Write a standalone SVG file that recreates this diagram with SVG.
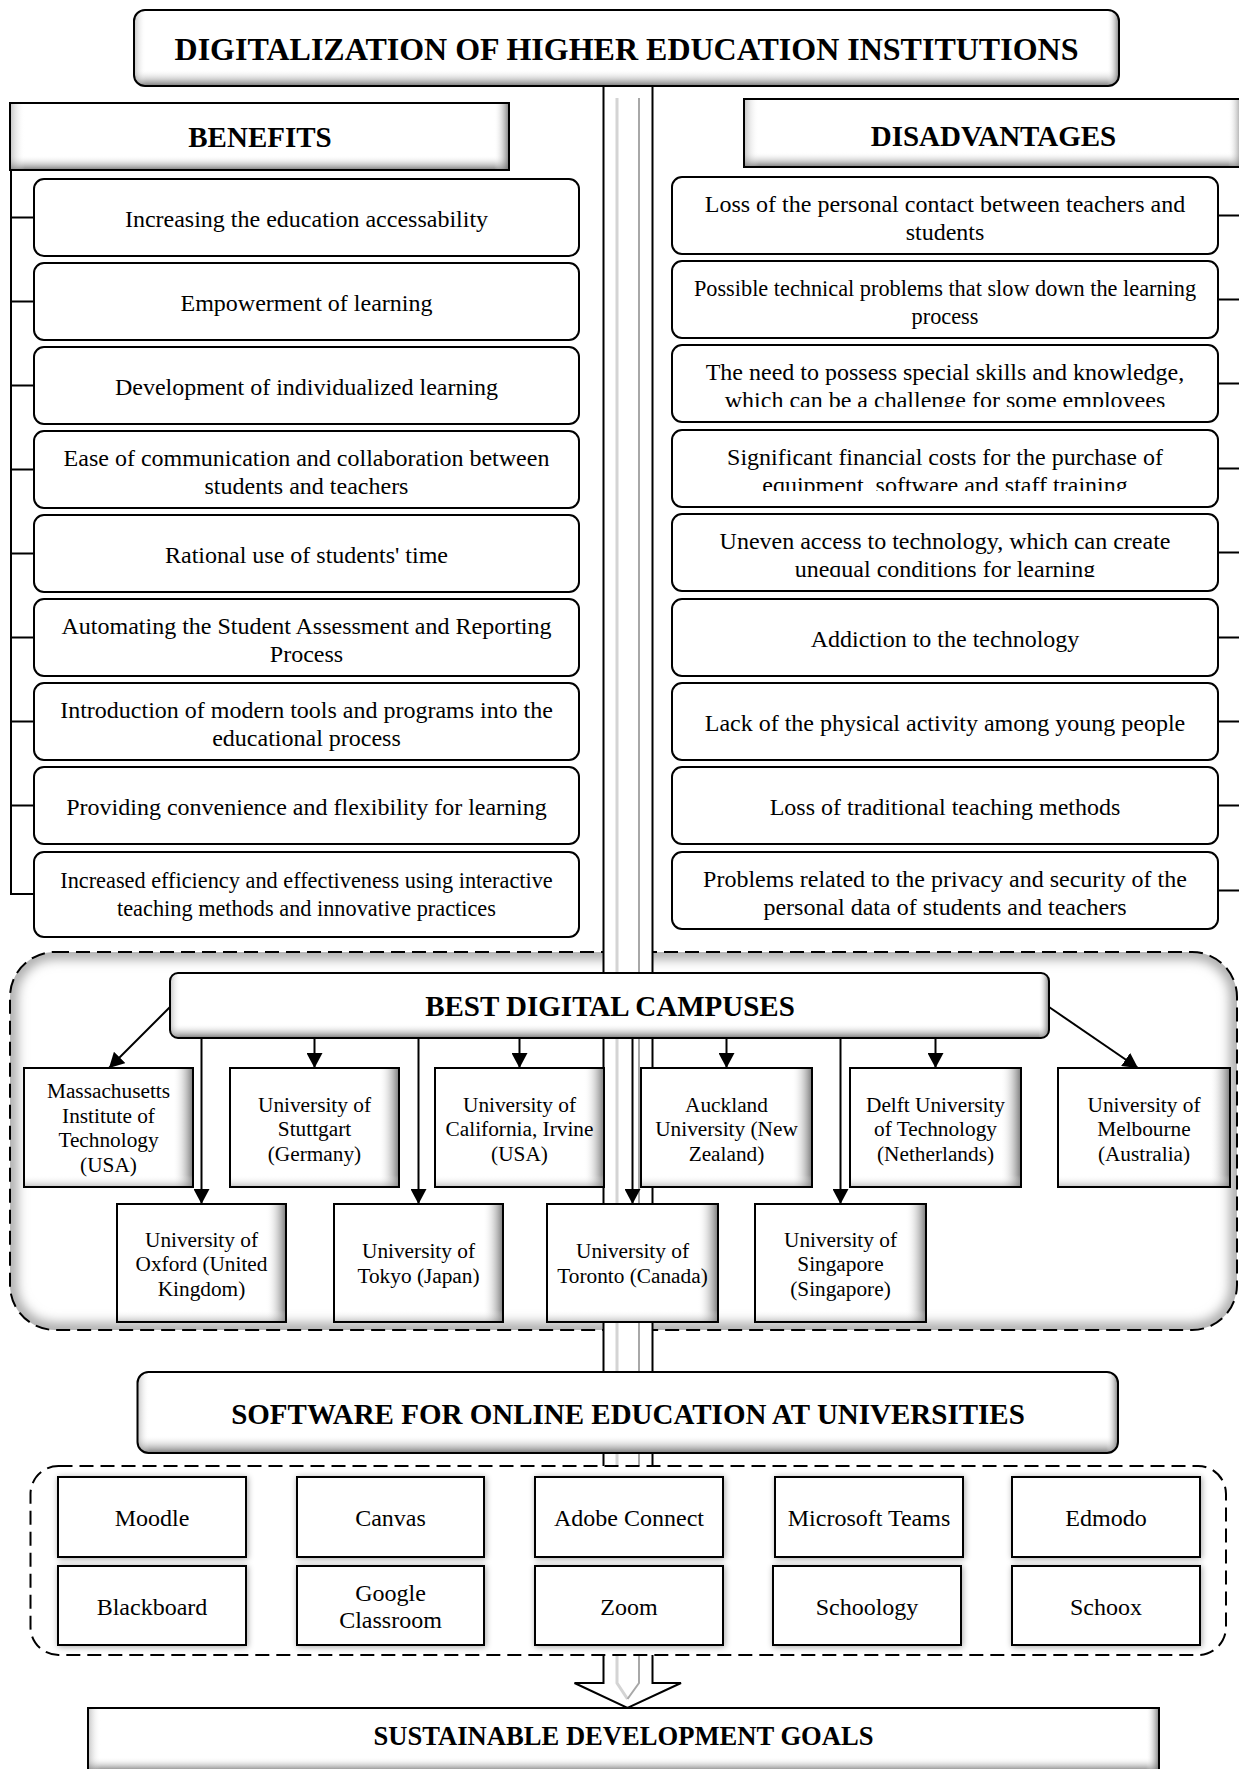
<svg xmlns="http://www.w3.org/2000/svg" width="1239" height="1769" viewBox="0 0 1239 1769">
<defs>
<style>
.t{font-family:"Liberation Serif","Times New Roman",serif;fill:#000;text-anchor:middle}
.h{font-weight:bold}
.f24{font-size:24px}
.f22{font-size:22.3px}
.f21{font-size:21.3px}
.box{fill:#fff;stroke:#000;stroke-width:2}
.nf{fill:none;stroke:#000;stroke-width:2}
.ln{fill:none;stroke:#000;stroke-width:2}
.arr{fill:none;stroke:#000;stroke-width:2;marker-end:url(#ah)}
.dash{fill:none;stroke:#000;stroke-width:2;stroke-dasharray:14 7}
</style>
<marker id="ah" viewBox="0 0 15 16" refX="15" refY="8" markerWidth="15" markerHeight="16" markerUnits="userSpaceOnUse" orient="auto"><path d="M0,0L15,8L0,16z" fill="#000"/></marker>
<linearGradient id="gBot" x1="0" y1="0" x2="0" y2="1"><stop offset="0" stop-color="#fff" stop-opacity="0"/><stop offset="0.78" stop-color="#fff" stop-opacity="0"/><stop offset="1" stop-color="#6a6a6a" stop-opacity="0.9"/></linearGradient>
<linearGradient id="gSide" x1="0" y1="0" x2="1" y2="0"><stop offset="0" stop-color="#888" stop-opacity="0.5"/><stop offset="0.012" stop-color="#fff" stop-opacity="0"/><stop offset="0.988" stop-color="#fff" stop-opacity="0"/><stop offset="1" stop-color="#666" stop-opacity="0.85"/></linearGradient>
<linearGradient id="gSideS" x1="0" y1="0" x2="1" y2="0"><stop offset="0" stop-color="#888" stop-opacity="0.5"/><stop offset="0.03" stop-color="#fff" stop-opacity="0"/><stop offset="0.97" stop-color="#fff" stop-opacity="0"/><stop offset="1" stop-color="#666" stop-opacity="0.85"/></linearGradient>
<linearGradient id="gBox" x1="0" y1="0" x2="1" y2="0"><stop offset="0" stop-color="#fff" stop-opacity="0"/><stop offset="0.88" stop-color="#fff" stop-opacity="0"/><stop offset="1" stop-color="#6a6a6a" stop-opacity="0.9"/></linearGradient>
<linearGradient id="gBoxB" x1="0" y1="0" x2="0" y2="1"><stop offset="0" stop-color="#fff" stop-opacity="0"/><stop offset="0.9" stop-color="#fff" stop-opacity="0"/><stop offset="1" stop-color="#888" stop-opacity="0.5"/></linearGradient>
<filter id="blur6" x="-5%" y="-10%" width="110%" height="120%"><feGaussianBlur stdDeviation="6"/></filter>
<filter id="soft" x="-10%" y="-10%" width="125%" height="130%"><feGaussianBlur in="SourceAlpha" stdDeviation="3"/><feOffset dx="1" dy="1"/><feComponentTransfer><feFuncA type="linear" slope="0.35"/></feComponentTransfer><feMerge><feMergeNode/><feMergeNode in="SourceGraphic"/></feMerge></filter>
<clipPath id="campClip"><rect x="10" y="952" width="1227" height="378" rx="45"/></clipPath>
<clipPath id="cd3"><rect x="672" y="345" width="546" height="62"/></clipPath>
<clipPath id="cd4"><rect x="672" y="430" width="546" height="61"/></clipPath>
<clipPath id="cd5"><rect x="672" y="514" width="546" height="63"/></clipPath>
</defs>
<rect width="1239" height="1769" fill="#fff"/>

<g id="campus-container">
<rect x="10" y="952" width="1227" height="378" rx="45" fill="#fff"/>
<g clip-path="url(#campClip)"><rect x="10" y="952" width="1227" height="378" rx="45" fill="none" stroke="#a6a6a6" stroke-width="14" filter="url(#blur6)"/></g>
<rect x="10" y="952" width="1227" height="378" rx="45" class="dash"/>
</g>

<g id="connectors">
<g id="trunk">
<path d="M603.5,85V1683H574.5L627.5,1708L681,1683H652.5V85" fill="#fff" stroke="#000" stroke-width="2"/>
<path d="M617,98V1683L627.5,1699" fill="none" stroke="#d4d4d4" stroke-width="3"/>
<path d="M639,98V1683L627.5,1699" fill="none" stroke="#a8a8a8" stroke-width="2"/>
</g>
<path class="ln" d="M11,169V894H34M11,217.5H34M11,301.5H34M11,385.5H34M11,469.5H34M11,553.5H34M11,637.5H34M11,721.5H34M11,805.5H34"/>
<path class="ln" d="M1243,167V890.5M1218,215.5H1243M1218,299.5H1243M1218,383.5H1243M1218,468.5H1243M1218,552.5H1243M1218,637.5H1243M1218,721.5H1243M1218,805.5H1243M1218,890.5H1243"/>
<path class="arr" d="M170,1007L109,1068"/>
<path class="arr" d="M314.5,1038V1068"/>
<path class="arr" d="M519.5,1038V1068"/>
<path class="arr" d="M726.5,1038V1068"/>
<path class="arr" d="M935.5,1038V1068"/>
<path class="arr" d="M1049,1007L1138,1068"/>
<path class="arr" d="M201.5,1038V1204"/>
<path class="arr" d="M418.5,1038V1204"/>
<path class="arr" d="M632.5,1038V1204"/>
<path class="arr" d="M840.5,1038V1204"/>
</g>

<g id="title">
<rect x="134" y="10" width="985" height="76" rx="11" fill="#fff"/>
<rect x="134" y="10" width="985" height="76" rx="11" fill="url(#gBot)"/>
<rect x="134" y="10" width="985" height="76" rx="11" fill="url(#gSide)"/>
<rect x="134" y="10" width="985" height="76" rx="11" class="nf"/>
<text class="t h" x="626.5" y="60" font-size="32">DIGITALIZATION OF HIGHER EDUCATION INSTITUTIONS</text>
</g>

<g id="benefits-header">
<rect x="10" y="103" width="499" height="67" fill="#fff"/>
<rect x="10" y="103" width="499" height="67" fill="url(#gBot)"/>
<rect x="10" y="103" width="499" height="67" fill="url(#gSideS)"/>
<rect x="10" y="103" width="499" height="67" class="nf"/>
<text class="t h" x="260" y="147" font-size="29">BENEFITS</text>
</g>

<g id="benefit-1"><rect class="box" x="34" y="179" width="545" height="77" rx="10"/><text class="t f24" x="306.5" y="227">Increasing the education accessability</text></g>
<g id="benefit-2"><rect class="box" x="34" y="263" width="545" height="77" rx="10"/><text class="t f24" x="306.5" y="311">Empowerment of learning</text></g>
<g id="benefit-3"><rect class="box" x="34" y="347" width="545" height="77" rx="10"/><text class="t f24" x="306.5" y="395">Development of individualized learning</text></g>
<g id="benefit-4"><rect class="box" x="34" y="431" width="545" height="77" rx="10"/><text class="t f24" x="306.5" y="466">Ease of communication and collaboration between</text><text class="t f24" x="306.5" y="494">students and teachers</text></g>
<g id="benefit-5"><rect class="box" x="34" y="515" width="545" height="77" rx="10"/><text class="t f24" x="306.5" y="563">Rational use of students' time</text></g>
<g id="benefit-6"><rect class="box" x="34" y="599" width="545" height="77" rx="10"/><text class="t f24" x="306.5" y="634">Automating the Student Assessment and Reporting</text><text class="t f24" x="306.5" y="662">Process</text></g>
<g id="benefit-7"><rect class="box" x="34" y="683" width="545" height="77" rx="10"/><text class="t f24" x="306.5" y="718">Introduction of modern tools and programs into the</text><text class="t f24" x="306.5" y="746">educational process</text></g>
<g id="benefit-8"><rect class="box" x="34" y="767" width="545" height="77" rx="10"/><text class="t f24" x="306.5" y="815">Providing convenience and flexibility for learning</text></g>
<g id="benefit-9"><rect class="box" x="34" y="852" width="545" height="85" rx="10"/><text class="t f22" x="306.5" y="888">Increased efficiency and effectiveness using interactive</text><text class="t f22" x="306.5" y="916">teaching methods and innovative practices</text></g>

<g id="disadvantages-header">
<rect x="744" y="99" width="499" height="68" fill="#fff"/>
<rect x="744" y="99" width="499" height="68" fill="url(#gBot)"/>
<rect x="744" y="99" width="499" height="68" fill="url(#gSideS)"/>
<rect x="744" y="99" width="499" height="68" class="nf"/>
<text class="t h" x="993.5" y="145.5" font-size="29">DISADVANTAGES</text>
</g>

<g id="disadvantage-1"><rect class="box" x="672" y="177" width="546" height="77" rx="10"/><text class="t f24" x="945" y="212">Loss of the personal contact between teachers and</text><text class="t f24" x="945" y="240">students</text></g>
<g id="disadvantage-2"><rect class="box" x="672" y="261" width="546" height="77" rx="10"/><text class="t f22" x="945" y="296">Possible technical problems that slow down the learning</text><text class="t f22" x="945" y="324">process</text></g>
<g id="disadvantage-3"><rect class="box" x="672" y="345" width="546" height="77" rx="10"/><g clip-path="url(#cd3)"><text class="t f24" x="945" y="380">The need to possess special skills and knowledge,</text><text class="t f24" x="945" y="408">which can be a challenge for some employees</text></g></g>
<g id="disadvantage-4"><rect class="box" x="672" y="430" width="546" height="77" rx="10"/><g clip-path="url(#cd4)"><text class="t f24" x="945" y="465">Significant financial costs for the purchase of</text><text class="t f24" x="945" y="493">equipment, software and staff training</text></g></g>
<g id="disadvantage-5"><rect class="box" x="672" y="514" width="546" height="77" rx="10"/><g clip-path="url(#cd5)"><text class="t f24" x="945" y="549">Uneven access to technology, which can create</text><text class="t f24" x="945" y="577">unequal conditions for learning</text></g></g>
<g id="disadvantage-6"><rect class="box" x="672" y="599" width="546" height="77" rx="10"/><text class="t f24" x="945" y="647">Addiction to the technology</text></g>
<g id="disadvantage-7"><rect class="box" x="672" y="683" width="546" height="77" rx="10"/><text class="t f24" x="945" y="731">Lack of the physical activity among young people</text></g>
<g id="disadvantage-8"><rect class="box" x="672" y="767" width="546" height="77" rx="10"/><text class="t f24" x="945" y="815">Loss of traditional teaching methods</text></g>
<g id="disadvantage-9"><rect class="box" x="672" y="852" width="546" height="77" rx="10"/><text class="t f24" x="945" y="887">Problems related to the privacy and security of the</text><text class="t f24" x="945" y="915">personal data of students and teachers</text></g>

<g id="campus-header">
<rect x="170" y="973" width="879" height="65" rx="8" fill="#fff"/>
<rect x="170" y="973" width="879" height="65" rx="8" fill="url(#gBot)"/>
<rect x="170" y="973" width="879" height="65" rx="8" fill="url(#gSide)"/>
<rect x="170" y="973" width="879" height="65" rx="8" class="nf"/>
<text class="t h" x="610" y="1015.5" font-size="29">BEST DIGITAL CAMPUSES</text>
</g>

<g id="campus-mit"><rect x="24" y="1068" width="169" height="119" fill="#fff"/><rect x="24" y="1068" width="169" height="119" fill="url(#gBox)"/><rect x="24" y="1068" width="169" height="119" fill="url(#gBoxB)"/><rect x="24" y="1068" width="169" height="119" class="nf"/>
<text class="t f21" x="108.5" y="1098">Massachusetts</text><text class="t f21" x="108.5" y="1122.5">Institute of</text><text class="t f21" x="108.5" y="1147">Technology</text><text class="t f21" x="108.5" y="1171.5">(USA)</text></g>
<g id="campus-stuttgart"><rect x="230" y="1068" width="169" height="119" fill="#fff"/><rect x="230" y="1068" width="169" height="119" fill="url(#gBox)"/><rect x="230" y="1068" width="169" height="119" fill="url(#gBoxB)"/><rect x="230" y="1068" width="169" height="119" class="nf"/>
<text class="t f21" x="314.5" y="1111.5">University of</text><text class="t f21" x="314.5" y="1136">Stuttgart</text><text class="t f21" x="314.5" y="1160.5">(Germany)</text></g>
<g id="campus-california"><rect x="435" y="1068" width="169" height="119" fill="#fff"/><rect x="435" y="1068" width="169" height="119" fill="url(#gBox)"/><rect x="435" y="1068" width="169" height="119" fill="url(#gBoxB)"/><rect x="435" y="1068" width="169" height="119" class="nf"/>
<text class="t f21" x="519.5" y="1111.5">University of</text><text class="t f21" x="519.5" y="1136">California, Irvine</text><text class="t f21" x="519.5" y="1160.5">(USA)</text></g>
<g id="campus-auckland"><rect x="641" y="1068" width="171" height="119" fill="#fff"/><rect x="641" y="1068" width="171" height="119" fill="url(#gBox)"/><rect x="641" y="1068" width="171" height="119" fill="url(#gBoxB)"/><rect x="641" y="1068" width="171" height="119" class="nf"/>
<text class="t f21" x="726.5" y="1111.5">Auckland</text><text class="t f21" x="726.5" y="1136">University (New</text><text class="t f21" x="726.5" y="1160.5">Zealand)</text></g>
<g id="campus-delft"><rect x="850" y="1068" width="171" height="119" fill="#fff"/><rect x="850" y="1068" width="171" height="119" fill="url(#gBox)"/><rect x="850" y="1068" width="171" height="119" fill="url(#gBoxB)"/><rect x="850" y="1068" width="171" height="119" class="nf"/>
<text class="t f21" x="935.5" y="1111.5">Delft University</text><text class="t f21" x="935.5" y="1136">of Technology</text><text class="t f21" x="935.5" y="1160.5">(Netherlands)</text></g>
<g id="campus-melbourne"><rect x="1058" y="1068" width="172" height="119" fill="#fff"/><rect x="1058" y="1068" width="172" height="119" fill="url(#gBox)"/><rect x="1058" y="1068" width="172" height="119" fill="url(#gBoxB)"/><rect x="1058" y="1068" width="172" height="119" class="nf"/>
<text class="t f21" x="1144" y="1111.5">University of</text><text class="t f21" x="1144" y="1136">Melbourne</text><text class="t f21" x="1144" y="1160.5">(Australia)</text></g>
<g id="campus-oxford"><rect x="117" y="1204" width="169" height="118" fill="#fff"/><rect x="117" y="1204" width="169" height="118" fill="url(#gBox)"/><rect x="117" y="1204" width="169" height="118" fill="url(#gBoxB)"/><rect x="117" y="1204" width="169" height="118" class="nf"/>
<text class="t f21" x="201.5" y="1246.5">University of</text><text class="t f21" x="201.5" y="1271">Oxford (United</text><text class="t f21" x="201.5" y="1295.5">Kingdom)</text></g>
<g id="campus-tokyo"><rect x="334" y="1204" width="169" height="118" fill="#fff"/><rect x="334" y="1204" width="169" height="118" fill="url(#gBox)"/><rect x="334" y="1204" width="169" height="118" fill="url(#gBoxB)"/><rect x="334" y="1204" width="169" height="118" class="nf"/>
<text class="t f21" x="418.5" y="1258">University of</text><text class="t f21" x="418.5" y="1282.5">Tokyo (Japan)</text></g>
<g id="campus-toronto"><rect x="547" y="1204" width="171" height="118" fill="#fff"/><rect x="547" y="1204" width="171" height="118" fill="url(#gBox)"/><rect x="547" y="1204" width="171" height="118" fill="url(#gBoxB)"/><rect x="547" y="1204" width="171" height="118" class="nf"/>
<text class="t f21" x="632.5" y="1258">University of</text><text class="t f21" x="632.5" y="1282.5">Toronto (Canada)</text></g>
<g id="campus-singapore"><rect x="755" y="1204" width="171" height="118" fill="#fff"/><rect x="755" y="1204" width="171" height="118" fill="url(#gBox)"/><rect x="755" y="1204" width="171" height="118" fill="url(#gBoxB)"/><rect x="755" y="1204" width="171" height="118" class="nf"/>
<text class="t f21" x="840.5" y="1246.5">University of</text><text class="t f21" x="840.5" y="1271">Singapore</text><text class="t f21" x="840.5" y="1295.5">(Singapore)</text></g>

<g id="software-header">
<rect x="137.5" y="1372" width="980.5" height="81" rx="11" fill="#fff"/>
<rect x="137.5" y="1372" width="980.5" height="81" rx="11" fill="url(#gBot)"/>
<rect x="137.5" y="1372" width="980.5" height="81" rx="11" fill="url(#gSide)"/>
<rect x="137.5" y="1372" width="980.5" height="81" rx="11" class="nf"/>
<text class="t h" x="628" y="1424" font-size="29">SOFTWARE FOR ONLINE EDUCATION AT UNIVERSITIES</text>
</g>

<g id="software-container"><rect x="30.5" y="1466" width="1195.5" height="189" rx="28" fill="#fff"/><rect x="30.5" y="1466" width="1195.5" height="189" rx="28" class="dash"/></g>

<g id="sw-moodle"><rect class="box" x="58" y="1477" width="188" height="80" filter="url(#soft)"/><text class="t f24" x="152" y="1526">Moodle</text></g>
<g id="sw-canvas"><rect class="box" x="297" y="1477" width="187" height="80" filter="url(#soft)"/><text class="t f24" x="390.5" y="1526">Canvas</text></g>
<g id="sw-adobe"><rect class="box" x="535" y="1477" width="188" height="80" filter="url(#soft)"/><text class="t f24" x="629" y="1526">Adobe Connect</text></g>
<g id="sw-teams"><rect class="box" x="775" y="1477" width="188" height="80" filter="url(#soft)"/><text class="t f24" x="869" y="1526">Microsoft Teams</text></g>
<g id="sw-edmodo"><rect class="box" x="1012" y="1477" width="188" height="80" filter="url(#soft)"/><text class="t f24" x="1106" y="1526">Edmodo</text></g>
<g id="sw-blackboard"><rect class="box" x="58" y="1566" width="188" height="79" filter="url(#soft)"/><text class="t f24" x="152" y="1615">Blackboard</text></g>
<g id="sw-google"><rect class="box" x="297" y="1566" width="187" height="79" filter="url(#soft)"/><text class="t f24" x="390.5" y="1601">Google</text><text class="t f24" x="390.5" y="1628">Classroom</text></g>
<g id="sw-zoom"><rect class="box" x="535" y="1566" width="188" height="79" filter="url(#soft)"/><text class="t f24" x="629" y="1615">Zoom</text></g>
<g id="sw-schoology"><rect class="box" x="773" y="1566" width="188" height="79" filter="url(#soft)"/><text class="t f24" x="867" y="1615">Schoology</text></g>
<g id="sw-schoox"><rect class="box" x="1012" y="1566" width="188" height="79" filter="url(#soft)"/><text class="t f24" x="1106" y="1615">Schoox</text></g>

<g id="sdg">
<rect x="88" y="1708" width="1071" height="63" fill="#fff"/>
<rect x="88" y="1708" width="1071" height="63" fill="url(#gBot)"/>
<rect x="88" y="1708" width="1071" height="63" fill="url(#gSide)"/>
<rect x="88" y="1708" width="1071" height="63" class="nf"/>
<text class="t h" x="623.5" y="1745" font-size="26.6">SUSTAINABLE DEVELOPMENT GOALS</text>
</g>
</svg>
